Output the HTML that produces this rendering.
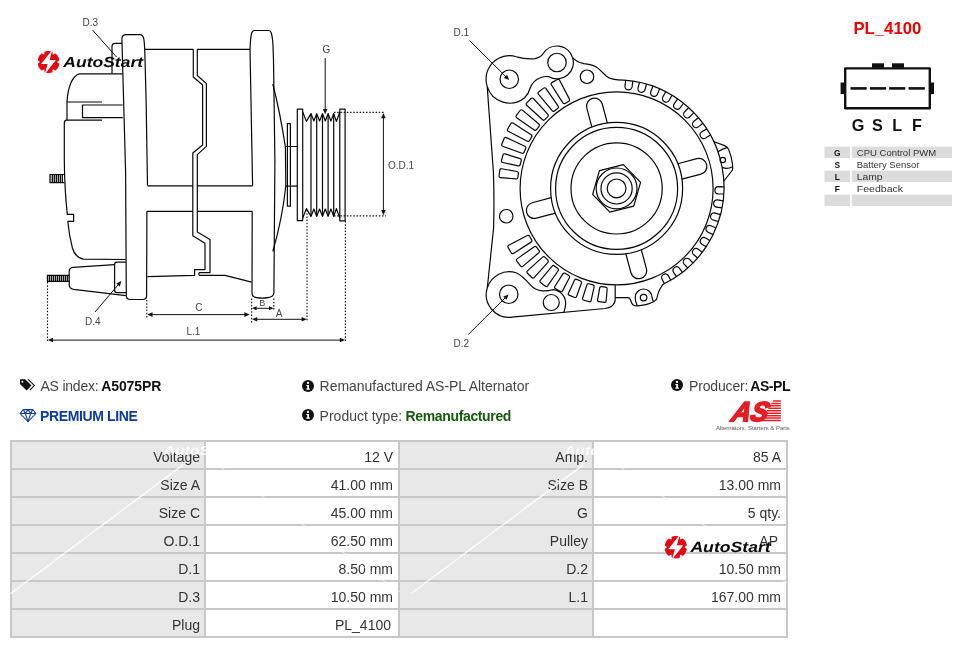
<!DOCTYPE html>
<html><head><meta charset="utf-8"><title>A5075PR</title>
<style>
*{margin:0;padding:0;box-sizing:border-box}
html,body{width:976px;height:648px;background:#fff;overflow:hidden}
body{position:relative;will-change:transform;font-family:"Liberation Sans", sans-serif;color:#333;font-size:14px}
#draw{position:absolute;left:0;top:0;width:976px;height:366px}
.info{position:absolute;white-space:nowrap;font-size:14px;line-height:16px;color:#454545}
.info b{color:#111}
.ico{position:absolute}
table#spec{position:absolute;left:10px;top:440px;width:778px;height:198px;border-collapse:collapse;table-layout:fixed;font-size:14px}
#spec td{border:2px solid #c8c8c8;height:28px;text-align:right;padding:3px 5px 0 0;vertical-align:middle;color:#333;background:#fff;width:25%;line-height:16px}
#spec td.l{background:#e8e8e8;padding-right:4px}
</style></head>
<body>
<svg id="draw" width="976" height="366" viewBox="0 0 976 366" fill="none" stroke="#080808" stroke-width="1.2" stroke-linejoin="round" stroke-linecap="butt">
<g id="side">
<path d="M147.5 185.8 L146.1 100 L144.8 52 Q144.5 44 144 40 Q143.4 34.7 139.8 34.7 H126.2 Q121.9 34.7 121.9 39.5 L125.6 172 L126.3 295.5 Q126.3 299.5 130.5 299.5 H142.5 Q146.6 299.5 146.6 295.5 L146.9 211.3" />
<path d="M122 43.3 H115 Q112 43.3 112 46.3 V73.5" />
<path d="M122.5 73.8 H79.5 C73 75 68 86 67 101.8 V120" />
<path d="M67 102 H102 M65.8 120.2 H102 M122.6 105 H82.5 V117.6 H122.8" />
<path d="M66.5 120.2 Q64.3 120.6 64.3 123 V160 Q64.6 190 67.3 214.4 H73.6 V221.3 H67.8 Q69.2 236 72.4 248 Q75 257.4 83.5 259.2 L125.6 259.5" />
<rect x="50" y="174.5" width="12" height="8.1" fill="#c4c4c4" stroke="none"/>
<path d="M64.4 174.5 H50 V182.6 H64.4" />
<path d="M52.40 174.50L52.40 182.60" stroke-width="1.1"/>
<path d="M54.40 174.50L54.40 182.60" stroke-width="1.1"/>
<path d="M56.40 174.50L56.40 182.60" stroke-width="1.1"/>
<path d="M58.40 174.50L58.40 182.60" stroke-width="1.1"/>
<path d="M60.40 174.50L60.40 182.60" stroke-width="1.1"/>
<path d="M62.40 174.50L62.40 182.60" stroke-width="1.1"/>
<rect x="47.4" y="275.3" width="22" height="6" fill="#c4c4c4" stroke="none"/>
<path d="M69.3 275.3 H47.4 V281.3 H69.3" />
<path d="M49.40 275.30L49.40 281.30" stroke-width="1.1"/>
<path d="M51.40 275.30L51.40 281.30" stroke-width="1.1"/>
<path d="M53.40 275.30L53.40 281.30" stroke-width="1.1"/>
<path d="M55.40 275.30L55.40 281.30" stroke-width="1.1"/>
<path d="M57.40 275.30L57.40 281.30" stroke-width="1.1"/>
<path d="M59.40 275.30L59.40 281.30" stroke-width="1.1"/>
<path d="M61.40 275.30L61.40 281.30" stroke-width="1.1"/>
<path d="M63.40 275.30L63.40 281.30" stroke-width="1.1"/>
<path d="M65.40 275.30L65.40 281.30" stroke-width="1.1"/>
<path d="M67.40 275.30L67.40 281.30" stroke-width="1.1"/>
<path d="M114.6 264.6 L73 267.4 Q69.2 267.8 69.2 271.4 V285 Q69.3 288.4 73.6 289.3 L125.8 295.6" />
<path d="M125.8 262.2 H117 Q114.6 262.2 114.6 264.6 V290 Q114.6 292.6 117 292.6 H126" />
<path d="M144.8 49.3 H193.3 M197.1 49.3 H250" />
<path d="M193.3 49.3 V77 L202.6 85 V145 L192.8 153 V235.8 L205 243.3 V269.6 H194.6 V275.3 L147.4 276.6" />
<path d="M197.3 49.3 V75.5 L206.4 83.6 V146.4 L197.3 154.6 V232 L210 239.5 V272.6 H199.4 Q198.2 274 199.4 275.3 H225 L251.6 282.2" />
<path d="M147.5 185.8 H193 M197.3 185.8 H252.6 M146.9 211.3 H193 M197.3 211.3 H252.2" />
<path d="M252.6 185.8 L250 49.3 L250.5 41 Q251 33.4 252.4 31.6 Q253.3 30.5 255 30.5 H268.4 Q270.3 30.5 271 32.2 Q272.6 36.6 273 46 L273.5 60 L274.9 160 L273.9 293 Q273.6 297 268 297.6 Q262 298.6 256.5 297.6 Q252 297 252 293 L252.2 211.3" />
<path d="M272.8 84 Q280 112 285.4 147 L285.8 186 Q282.5 218 272.8 251.5" />
<path d="M287.4 123.6 H290.4 V206.2 H287.4 Z" />
<path d="M285.3 146.5 H297 M285.7 186.2 H297" />
<path d="M297.3 220.6 V109.2 H302.7 L302.7 112 L306.4 121.4 L311 113.6 L313.9 121 L316.7 113.6 L319.6 121 L322.5 113.6 L325.3 121 L328.1 113.6 L330.9 121 L333.7 113.6 L336.4 121.4 L339.8 112 V109.2 H345.1 V220.8 H339.8 L339.8 218.0 L336.4 208.6 L333.7 216.4 L330.9 209.0 L328.1 216.4 L325.3 209.0 L322.5 216.4 L319.6 209.0 L316.7 216.4 L313.9 209.0 L311 216.4 L306.4 208.6 L302.7 218.0 V220.6 Z" />
<path d="M302.70 112.00L302.70 218.00" />
<path d="M339.80 112.00L339.80 218.00" />
<path d="M311.00 113.80L311.00 216.20" />
<path d="M316.70 113.80L316.70 216.20" />
<path d="M322.50 113.80L322.50 216.20" />
<path d="M328.10 113.80L328.10 216.20" />
<path d="M333.70 113.80L333.70 216.20" />
</g>
<g id="dims" stroke="#111" stroke-width="1">
<path d="M47.50 282.00L47.50 341.50" stroke-dasharray="1.5 1.7" stroke-width="1.15"/>
<path d="M146.80 300.00L146.80 318.00" stroke-dasharray="1.5 1.7" stroke-width="1.15"/>
<path d="M251.60 298.50L251.60 322.50" stroke-dasharray="1.5 1.7" stroke-width="1.15"/>
<path d="M273.80 298.50L273.80 311.00" stroke-dasharray="1.5 1.7" stroke-width="1.15"/>
<path d="M307.00 210.00L307.00 321.50" stroke-dasharray="1.5 1.7" stroke-width="1.15"/>
<path d="M345.40 221.00L345.40 342.00" stroke-dasharray="1.5 1.7" stroke-width="1.15"/>
<path d="M334.00 112.40L384.50 112.40" stroke-dasharray="1.5 1.7" stroke-width="1.15"/>
<path d="M334.00 215.80L386.00 215.80" stroke-dasharray="1.5 1.7" stroke-width="1.15"/>
<path d="M149.00 314.60L248.00 314.60" />
<path d="M147.30 314.60L152.50 312.30L152.50 316.90Z" fill="#111" stroke="none"/>
<path d="M249.60 314.60L244.40 316.90L244.40 312.30Z" fill="#111" stroke="none"/>
<path d="M254.00 308.30L272.00 308.30" />
<path d="M252.00 308.30L256.60 306.30L256.60 310.30Z" fill="#111" stroke="none"/>
<path d="M273.60 308.30L269.00 310.30L269.00 306.30Z" fill="#111" stroke="none"/>
<path d="M254.00 319.30L305.00 319.30" />
<path d="M252.00 319.30L257.20 317.00L257.20 321.60Z" fill="#111" stroke="none"/>
<path d="M306.80 319.30L301.60 321.60L301.60 317.00Z" fill="#111" stroke="none"/>
<path d="M50.00 340.10L343.00 340.10" />
<path d="M47.80 340.00L53.00 337.70L53.00 342.30Z" fill="#111" stroke="none"/>
<path d="M345.00 340.00L339.80 342.30L339.80 337.70Z" fill="#111" stroke="none"/>
<path d="M383.40 116.00L383.40 212.00" />
<path d="M383.40 113.00L385.70 118.20L381.10 118.20Z" fill="#111" stroke="none"/>
<path d="M383.40 215.30L381.10 210.10L385.70 210.10Z" fill="#111" stroke="none"/>
<path d="M325.20 58.00L325.20 110.00" />
<path d="M325.20 114.20L322.90 109.00L327.50 109.00Z" fill="#111" stroke="none"/>
<path d="M92.50 30.00L116.50 57.00" />
<path d="M95.00 312.00L120.00 282.60" />
<path d="M121.40 281.00L119.77 286.45L116.27 283.46Z" fill="#111" stroke="none"/>
</g>
<g id="lbl" fill="#444" stroke="none" font-family="&quot;Liberation Sans&quot;, sans-serif">
<text x="82.5" y="25.6" font-size="10" text-anchor="start" >D.3</text>
<text x="85" y="325" font-size="10" text-anchor="start" >D.4</text>
<text x="198.8" y="310.6" font-size="10" text-anchor="middle" >C</text>
<text x="262.2" y="306" font-size="9" text-anchor="middle" >B</text>
<text x="279" y="317.4" font-size="10" text-anchor="middle" >A</text>
<text x="193.4" y="334.8" font-size="10" text-anchor="middle" >L.1</text>
<text x="326.5" y="53.4" font-size="10" text-anchor="middle" >G</text>
<text x="388" y="169" font-size="10" text-anchor="start" >O.D.1</text>
</g>
<g id="front">
<circle cx="616.60" cy="188.40" r="9.40"/>
<circle cx="616.60" cy="188.40" r="15.60"/>
<circle cx="616.60" cy="188.40" r="20.40"/>
<circle cx="616.60" cy="188.40" r="45.60"/>
<circle cx="616.60" cy="188.40" r="61.00"/>
<circle cx="616.60" cy="188.40" r="66.00"/>
<circle cx="616.60" cy="188.40" r="96.50"/>
<path d="M623.41 164.66 L640.57 182.42 L633.76 206.17 L609.79 212.14 L592.63 194.38 L599.44 170.63Z"/>
<path d="M591.92 127.20 L586.82 108.17 A8.00 8.00 0 0 1 602.28 104.03 L607.37 123.06"/>
<path d="M677.80 163.72 L696.83 158.62 A8.00 8.00 0 0 1 700.97 174.08 L681.94 179.17"/>
<path d="M641.28 249.60 L646.38 268.63 A8.00 8.00 0 0 1 630.92 272.77 L625.83 253.74"/>
<path d="M555.40 213.08 L536.37 218.18 A8.00 8.00 0 0 1 532.23 202.72 L551.26 197.63"/>
<path d="M562.88 102.90 L551.31 84.76 Q550.45 83.41 552.24 82.37 L556.96 79.65 Q558.75 78.61 559.49 80.04 L569.42 99.13 Q570.15 100.55 568.77 101.35 L565.13 103.45 Q563.75 104.25 562.88 102.90Z"/>
<path d="M552.18 110.65 L538.34 94.17 Q537.31 92.94 538.95 91.68 L543.27 88.37 Q544.92 87.10 545.84 88.42 L558.17 106.05 Q559.09 107.37 557.82 108.34 L554.48 110.90 Q553.21 111.87 552.18 110.65Z"/>
<path d="M542.59 119.72 L526.71 105.19 Q525.53 104.11 526.99 102.64 L530.84 98.79 Q532.31 97.33 533.39 98.51 L547.92 114.39 Q549.00 115.57 547.87 116.70 L544.90 119.67 Q543.77 120.80 542.59 119.72Z"/>
<path d="M534.25 129.97 L516.62 117.64 Q515.30 116.72 516.57 115.07 L519.88 110.75 Q521.14 109.11 522.37 110.14 L538.85 123.98 Q540.07 125.01 539.10 126.28 L536.54 129.62 Q535.57 130.89 534.25 129.97Z"/>
<path d="M527.33 141.22 L508.24 131.29 Q506.81 130.55 507.85 128.76 L510.57 124.04 Q511.61 122.25 512.96 123.11 L531.10 134.68 Q532.45 135.55 531.65 136.93 L529.55 140.57 Q528.75 141.95 527.33 141.22Z"/>
<path d="M521.94 153.27 L502.65 146.27 Q501.14 145.72 501.93 143.82 L504.00 138.84 Q504.78 136.94 506.23 137.62 L524.82 146.30 Q526.27 146.98 525.66 148.46 L524.06 152.34 Q523.44 153.82 521.94 153.27Z"/>
<path d="M518.16 165.93 L502.62 162.49 Q501.06 162.15 501.57 160.25 L502.90 155.26 Q503.41 153.36 504.94 153.85 L520.11 158.64 Q521.64 159.13 521.23 160.67 L520.14 164.73 Q519.73 166.27 518.16 165.93Z"/>
<path d="M516.07 178.97 L500.41 177.61 Q498.82 177.47 499.07 175.53 L499.75 170.42 Q500.00 168.47 501.58 168.75 L517.06 171.49 Q518.63 171.77 518.42 173.36 L517.88 177.52 Q517.67 179.11 516.07 178.97Z"/>
<path d="M531.10 242.12 L513.38 253.42 Q512.03 254.28 511.00 252.50 L508.29 247.80 Q507.26 246.02 508.68 245.28 L527.33 235.58 Q528.75 234.85 529.55 236.23 L531.65 239.87 Q532.45 241.25 531.10 242.12Z"/>
<path d="M538.85 252.82 L522.75 266.34 Q521.53 267.37 520.27 265.73 L516.97 261.43 Q515.71 259.79 517.03 258.88 L534.25 246.83 Q535.57 245.91 536.54 247.18 L539.10 250.52 Q540.07 251.79 538.85 252.82Z"/>
<path d="M547.92 262.41 L534.07 277.55 Q532.99 278.73 531.53 277.28 L527.72 273.47 Q526.27 272.01 527.45 270.93 L542.59 257.08 Q543.77 256.00 544.90 257.13 L547.87 260.10 Q549.00 261.23 547.92 262.41Z"/>
<path d="M558.17 270.75 L547.56 285.92 Q546.64 287.23 545.04 286.01 L540.84 282.78 Q539.24 281.56 540.27 280.33 L552.18 266.15 Q553.21 264.93 554.48 265.90 L557.82 268.46 Q559.09 269.43 558.17 270.75Z"/>
<path d="M569.42 277.67 L562.54 290.90 Q561.80 292.32 560.11 291.35 L555.69 288.79 Q554.00 287.82 554.86 286.47 L562.88 273.90 Q563.75 272.55 565.13 273.35 L568.77 275.45 Q570.15 276.25 569.42 277.67Z"/>
<path d="M581.47 283.06 L576.59 296.52 Q576.04 298.02 574.25 297.28 L569.55 295.34 Q567.77 294.60 568.44 293.14 L574.50 280.18 Q575.18 278.73 576.66 279.34 L580.54 280.94 Q582.02 281.56 581.47 283.06Z"/>
<path d="M594.13 286.84 L591.10 300.52 Q590.76 302.09 588.89 301.59 L584.00 300.27 Q582.14 299.78 582.62 298.25 L586.84 284.89 Q587.33 283.36 588.87 283.77 L592.93 284.86 Q594.47 285.27 594.13 286.84Z"/>
<path d="M607.17 288.93 L606.12 301.00 Q605.98 302.59 604.11 302.34 L599.18 301.70 Q597.30 301.45 597.58 299.87 L599.69 287.94 Q599.97 286.37 601.56 286.58 L605.72 287.12 Q607.31 287.33 607.17 288.93Z"/>
<path d="M625.65 80.23 L624.98 85.89 A3.60 3.60 0 0 0 632.13 86.74 L632.80 81.08"/>
<path d="M639.47 82.32 L638.07 87.85 A3.60 3.60 0 0 0 645.05 89.62 L646.45 84.09"/>
<path d="M652.90 86.19 L650.80 91.48 A3.60 3.60 0 0 0 657.49 94.15 L659.59 88.85"/>
<path d="M665.72 91.76 L662.94 96.74 A3.60 3.60 0 0 0 669.23 100.25 L672.01 95.27"/>
<path d="M677.70 98.95 L674.31 103.53 A3.60 3.60 0 0 0 680.09 107.82 L683.48 103.24"/>
<path d="M688.66 107.63 L684.69 111.73 A3.60 3.60 0 0 0 689.87 116.74 L693.83 112.64"/>
<path d="M698.39 117.66 L693.93 121.21 A3.60 3.60 0 0 0 698.41 126.85 L702.87 123.30"/>
<path d="M706.74 128.87 L701.86 131.81 A3.60 3.60 0 0 0 705.57 137.98 L710.45 135.04"/>
<path d="M724.06 186.80 L718.46 186.65 A3.60 3.60 0 0 0 718.26 193.84 L723.86 194.00"/>
<path d="M723.22 200.85 L717.69 199.96 A3.60 3.60 0 0 0 716.55 207.07 L722.08 207.96"/>
<path d="M720.55 214.66 L715.18 213.06 A3.60 3.60 0 0 0 713.12 219.96 L718.49 221.56"/>
<path d="M716.10 228.01 L710.99 225.72 A3.60 3.60 0 0 0 708.05 232.30 L713.16 234.58"/>
<path d="M709.95 240.66 L705.69 238.04 A3.60 3.60 0 0 0 701.92 244.17 L706.17 246.79"/>
<path d="M702.20 252.40 L698.32 249.25 A3.60 3.60 0 0 0 693.77 254.84 L697.65 257.99"/>
<path d="M692.98 263.03 L689.54 259.40 A3.60 3.60 0 0 0 684.31 264.35 L687.75 267.98"/>
<path d="M682.45 272.37 L679.52 268.32 A3.60 3.60 0 0 0 673.69 272.54 L676.62 276.59"/>
<path d="M670.80 280.25 L668.42 275.85 A3.60 3.60 0 0 0 662.08 279.28 L664.46 283.67"/>
<circle cx="509.25" cy="79.25" r="9.25"/>
<circle cx="557.00" cy="62.50" r="9.25"/>
<circle cx="587.00" cy="76.75" r="6.75"/>
<circle cx="506.25" cy="216.25" r="6.75"/>
<circle cx="508.75" cy="294.25" r="9.25"/>
<circle cx="551.25" cy="302.50" r="8.00"/>
<circle cx="643.60" cy="297.60" r="3.30"/>
<circle cx="722.80" cy="160.00" r="2.70"/>
<path d="M624.00 80.16 A107.5 107.5 0 0 1 662.78 284.43"/>
<path d="M713.5 141.5 L724.6 145.6 Q727.6 146.8 728.7 149.6 Q731.6 157 732.4 163.5 Q732.9 167 732.5 170 L723.5 181.5"/>
<path d="M718 151.7 Q722 149.2 726.8 147.6 M722.4 167.4 Q727 169.8 732.5 166.8"/>
<path d="M662.78 284.43 L659.6 289.8 Q657.6 294 657.2 297 Q657 299.8 654.8 300.8 L653.4 301.8 Q650 303.6 645.9 304.6 Q641 305.7 637.3 305.8 L634.6 305.7 Q632.4 305.2 631.6 302.8 L630.3 299.6 Q629.6 297.7 627.6 297.7 H615.2"/>
<path d="M637.2 305.6 Q635 301.4 635.2 297.4 A8.4 8.4 0 0 1 652 297.4 Q652.5 299.8 653.5 301.8"/>
<path d="M615.2 285.2 L615.2 298 Q615.5 303.4 611.6 306.3 Q609.5 307.9 605 308.5 L512 317.2"/>
<path d="M512 317.2 A22.8 22.8 0 0 1 487.3 287.8"/>
<path d="M487.3 287.8 L493.6 228 Q494.4 200 493.4 172 L487.2 86.4"/>
<path d="M487.2 86.4 A23.4 23.4 0 0 1 516.5 56.8"/>
<path d="M516.5 56.8 Q527 59.8 535 58.6 Q540.5 57.5 543.2 53.6"/>
<path d="M543.2 53.6 A16.3 16.3 0 0 1 572.6 57.6"/>
<path d="M572.6 57.6 Q577 62.4 584 63.6 Q594 64.6 598.5 68.6 Q602.5 72.4 606.5 76.2 Q611 80.2 624.00 80.16"/>
<path d="M487.2 86.4 A23.4 23.4 0 0 0 524.6 97.7 Q528.6 94 530 88.5 Q532.6 80.5 541 77.5 Q545 76 549 76.7 A16.3 16.3 0 0 0 572.6 57.6"/>
<path d="M487.3 287.8 A22.8 22.8 0 0 1 516.6 273 C522 275.4 526.5 280.6 530 284.6 Q535 290.2 542.4 290.8 Q548 291.2 552.5 289.7 A13.8 13.8 0 0 1 565.7 303.5 Q565.4 308 563.8 312.3"/>
</g>
<g stroke="#111" stroke-width="1">
<path d="M469.5 40.5 L507 77.8"/>
<path d="M509.20 80.00L503.89 77.97L507.13 74.70Z" fill="#111" stroke="none"/>
<path d="M468.3 334.5 L506.5 296.5"/>
<path d="M508.60 294.40L506.51 299.69L503.28 296.41Z" fill="#111" stroke="none"/>
</g>
<g fill="#444" stroke="none" font-family="&quot;Liberation Sans&quot;, sans-serif" font-size="10">
<text x="453.6" y="35.6">D.1</text>
<text x="453.6" y="346.6">D.2</text>
</g>
<g id="right" stroke="none">
<text id="pl" x="887.4" y="34" text-anchor="middle" font-size="16.5" font-weight="bold" fill="#f00000" font-family="&quot;Liberation Sans&quot;, sans-serif" textLength="68" lengthAdjust="spacingAndGlyphs">PL_4100</text>
<rect x="845.2" y="68.4" width="84.6" height="39.8" fill="#fff" stroke="#111" stroke-width="2.4"/>
<rect x="872" y="63.3" width="12" height="4.5" fill="#111"/>
<rect x="892" y="63.3" width="12" height="4.5" fill="#111"/>
<rect x="840.6" y="82.5" width="3.8" height="11.6" fill="#111"/>
<rect x="930.6" y="82.5" width="3.4" height="11.6" fill="#111"/>
<rect x="850.5" y="87.1" width="16.2" height="2.6" fill="#111"/>
<rect x="869.9" y="87.1" width="16.2" height="2.6" fill="#111"/>
<rect x="889.1" y="87.1" width="16.2" height="2.6" fill="#111"/>
<rect x="908.6" y="87.1" width="16.2" height="2.6" fill="#111"/>
<text x="858" y="130.9" text-anchor="middle" font-size="16.2" font-weight="bold" fill="#111" font-family="&quot;Liberation Sans&quot;, sans-serif">G</text>
<text x="877.5" y="130.9" text-anchor="middle" font-size="16.2" font-weight="bold" fill="#111" font-family="&quot;Liberation Sans&quot;, sans-serif">S</text>
<text x="897.2" y="130.9" text-anchor="middle" font-size="16.2" font-weight="bold" fill="#111" font-family="&quot;Liberation Sans&quot;, sans-serif">L</text>
<text x="916.9" y="130.9" text-anchor="middle" font-size="16.2" font-weight="bold" fill="#111" font-family="&quot;Liberation Sans&quot;, sans-serif">F</text>
<rect x="824.5" y="146.6" width="25.6" height="11.4" fill="#dcdcdc"/>
<rect x="851.8" y="146.6" width="100.2" height="11.4" fill="#dcdcdc"/>
<text x="837.2" y="155.6" text-anchor="middle" font-size="8.4" font-weight="bold" fill="#111" font-family="&quot;Liberation Sans&quot;, sans-serif">G</text>
<text x="856.8" y="155.6" font-size="8.6" fill="#333" font-family="&quot;Liberation Sans&quot;, sans-serif" textLength="79.4" lengthAdjust="spacingAndGlyphs">CPU Control PWM</text>
<text x="837.2" y="167.6" text-anchor="middle" font-size="8.4" font-weight="bold" fill="#111" font-family="&quot;Liberation Sans&quot;, sans-serif">S</text>
<text x="856.8" y="167.6" font-size="8.6" fill="#333" font-family="&quot;Liberation Sans&quot;, sans-serif" textLength="62.5" lengthAdjust="spacingAndGlyphs">Battery Sensor</text>
<rect x="824.5" y="170.6" width="25.6" height="11.4" fill="#dcdcdc"/>
<rect x="851.8" y="170.6" width="100.2" height="11.4" fill="#dcdcdc"/>
<text x="837.2" y="179.6" text-anchor="middle" font-size="8.4" font-weight="bold" fill="#111" font-family="&quot;Liberation Sans&quot;, sans-serif">L</text>
<text x="856.8" y="179.6" font-size="8.6" fill="#333" font-family="&quot;Liberation Sans&quot;, sans-serif" textLength="25.8" lengthAdjust="spacingAndGlyphs">Lamp</text>
<text x="837.2" y="191.6" text-anchor="middle" font-size="8.4" font-weight="bold" fill="#111" font-family="&quot;Liberation Sans&quot;, sans-serif">F</text>
<text x="856.8" y="191.6" font-size="8.6" fill="#333" font-family="&quot;Liberation Sans&quot;, sans-serif" textLength="46.3" lengthAdjust="spacingAndGlyphs">Feedback</text>
<rect x="824.5" y="194.6" width="25.6" height="11.4" fill="#dcdcdc"/>
<rect x="851.8" y="194.6" width="100.2" height="11.4" fill="#dcdcdc"/>
</g>
</svg>
<svg class="ico" style="left:19px;top:378px" width="17" height="14" viewBox="0 0 17 14"><path d="M1 1.3h5.2l6.3 6.2-4.9 5-6.6-6.4z" fill="#111"/><path d="M8.3 1.3h1.5l6.3 6.2-4.9 5-0.8-0.8 4.2-4.2z" fill="#111"/><circle cx="3.4" cy="3.7" r="1" fill="#fff"/></svg><div class="info" id="t_as" style="left:40.5px;top:378px"><span style="letter-spacing:-0.22px">AS index:</span></div><div class="info" style="left:101.2px;top:378px"><b style="letter-spacing:-0.1px">A5075PR</b></div>
<svg class="ico" style="left:19px;top:408px" width="18" height="15" viewBox="0 0 18 15"><g fill="none" stroke="#0d3b9e" stroke-width="1.05" stroke-linejoin="round"><path d="M4.3 1.6h9.4l3.2 3.9L9 13.6 1.1 5.5z"/><path d="M1.1 5.5h15.8M6.3 5.5L9 13.4l2.7-7.9M4.3 1.6l2 3.9L9 1.6l2.7 3.9 2-3.9"/></g></svg><div class="info" id="t_pl" style="left:40px;top:407.6px;color:#0d3b9e;font-weight:bold;letter-spacing:-0.37px">PREMIUM LINE</div>
<svg class="ico" style="left:301px;top:378.5px" width="14" height="14" viewBox="0 0 14 14"><circle cx="7" cy="7" r="6" fill="#111"/><circle cx="7" cy="3.9" r="1.15" fill="#fff"/><path d="M5.4 5.9h2.6v3.7h0.9v1.2H5.3V9.6h0.9V7.1H5.4z" fill="#fff"/></svg><div class="info" id="t_rm" style="left:319.6px;top:378px;letter-spacing:-0.03px">Remanufactured AS-PL Alternator</div>
<svg class="ico" style="left:301px;top:407.8px" width="14" height="14" viewBox="0 0 14 14"><circle cx="7" cy="7" r="6" fill="#111"/><circle cx="7" cy="3.9" r="1.15" fill="#fff"/><path d="M5.4 5.9h2.6v3.7h0.9v1.2H5.3V9.6h0.9V7.1H5.4z" fill="#fff"/></svg><div class="info" id="t_pt" style="left:319.6px;top:407.6px">Product type:</div><div class="info" style="left:405.6px;top:407.6px"><b style="color:#155a0c;letter-spacing:-0.36px">Remanufactured</b></div>
<svg class="ico" style="left:670.3px;top:378.3px" width="14" height="14" viewBox="0 0 14 14"><circle cx="7" cy="7" r="6" fill="#111"/><circle cx="7" cy="3.9" r="1.15" fill="#fff"/><path d="M5.4 5.9h2.6v3.7h0.9v1.2H5.3V9.6h0.9V7.1H5.4z" fill="#fff"/></svg><div class="info" id="t_pr" style="left:689px;top:378px"><span style="letter-spacing:-0.15px">Producer:</span></div><div class="info" style="left:750.2px;top:378px"><b style="letter-spacing:-0.4px">AS-PL</b></div>

<table id="spec">
<tr><td class="l">Voltage</td><td>12 V</td><td class="l">Amp.</td><td>85 A</td></tr>
<tr><td class="l">Size A</td><td>41.00 mm</td><td class="l">Size B</td><td>13.00 mm</td></tr>
<tr><td class="l">Size C</td><td>45.00 mm</td><td class="l">G</td><td>5 qty.</td></tr>
<tr><td class="l">O.D.1</td><td>62.50 mm</td><td class="l">Pulley</td><td style="padding-right:8px">AP</td></tr>
<tr><td class="l">D.1</td><td>8.50 mm</td><td class="l">D.2</td><td>10.50 mm</td></tr>
<tr><td class="l">D.3</td><td>10.50 mm</td><td class="l">L.1</td><td>167.00 mm</td></tr>
<tr><td class="l">Plug</td><td style="padding-right:7px">PL_4100</td><td class="l"></td><td></td></tr>
</table>

<svg class="ico" id="wm" style="left:0;top:436px" width="976" height="212" viewBox="0 436 976 212" fill="none" stroke="#fff"><path d="M10.2 594L183.0 464.8" stroke-width="1.5" stroke-opacity="0.85"/><path d="M212.0 461.4L400.0 592" stroke-width="0.9" stroke-opacity="0.75"/><text x="163.6" y="455" font-size="13.6" font-weight="bold" font-style="italic" fill="#fff" fill-opacity="0.9" stroke="none" font-family="&quot;Liberation Sans&quot;, sans-serif" textLength="72" lengthAdjust="spacingAndGlyphs">AutoStart</text><path d="M410.5 594L583.3 464.8" stroke-width="1.5" stroke-opacity="0.85"/><path d="M612.3 461.4L800.3 592" stroke-width="0.9" stroke-opacity="0.75"/><text x="563.9" y="455" font-size="13.6" font-weight="bold" font-style="italic" fill="#fff" fill-opacity="0.9" stroke="none" font-family="&quot;Liberation Sans&quot;, sans-serif" textLength="72" lengthAdjust="spacingAndGlyphs">AutoStart</text></svg>
<svg class="ico" style="left:38px;top:49.9px" width="108" height="26" viewBox="0 0 108 26"><g transform="translate(10.5 12)"><path d="M8.80 0.00L8.84 0.31L9.28 0.65L9.96 1.05L10.57 1.48L10.83 1.91L10.76 2.29L10.67 2.66L10.57 3.03L10.46 3.40L10.34 3.76L10.20 4.12L10.05 4.47L9.89 4.82L9.71 5.16L9.53 5.50L9.33 5.83L9.12 6.15L8.90 6.47L8.67 6.77L8.43 7.07L8.17 7.36L7.91 7.64L7.64 7.91L7.36 8.17L7.07 8.42L6.57 8.41L5.88 8.10L5.20 7.72L4.69 7.50L4.40 7.62L4.15 7.81L4.08 8.36L4.07 9.14L4.00 9.89L3.76 10.33L3.40 10.46L3.03 10.57L2.66 10.67L2.29 10.76L1.91 10.83L1.53 10.89L1.15 10.94L0.77 10.97L0.38 10.99L0.00 11.00L-0.38 10.99L-0.77 10.97L-1.15 10.94L-1.53 10.89L-1.91 10.83L-2.29 10.76L-2.66 10.67L-3.03 10.57L-3.40 10.46L-3.76 10.33L-4.00 9.89L-4.07 9.14L-4.08 8.36L-4.15 7.81L-4.40 7.62L-4.69 7.50L-5.20 7.72L-5.88 8.10L-6.57 8.41L-7.07 8.42L-7.36 8.17L-7.64 7.91L-7.91 7.64L-8.17 7.36L-8.43 7.07L-8.67 6.77L-8.90 6.47L-9.12 6.15L-9.33 5.83L-9.53 5.50L-9.71 5.16L-9.89 4.82L-10.05 4.47L-10.20 4.12L-10.34 3.76L-10.46 3.40L-10.57 3.03L-10.67 2.66L-10.76 2.29L-10.83 1.91L-10.57 1.48L-9.96 1.05L-9.28 0.65L-8.84 0.31L-8.80 0.00L-8.84 -0.31L-9.28 -0.65L-9.96 -1.05L-10.57 -1.48L-10.83 -1.91L-10.76 -2.29L-10.67 -2.66L-10.57 -3.03L-10.46 -3.40L-10.34 -3.76L-10.20 -4.12L-10.05 -4.47L-9.89 -4.82L-9.71 -5.16L-9.53 -5.50L-9.33 -5.83L-9.12 -6.15L-8.90 -6.47L-8.67 -6.77L-8.43 -7.07L-8.17 -7.36L-7.91 -7.64L-7.64 -7.91L-7.36 -8.17L-7.07 -8.42L-6.57 -8.41L-5.88 -8.10L-5.20 -7.72L-4.69 -7.50L-4.40 -7.62L-4.15 -7.81L-4.08 -8.36L-4.07 -9.14L-4.00 -9.89L-3.76 -10.33L-3.40 -10.46L-3.03 -10.57L-2.66 -10.67L-2.29 -10.76L-1.91 -10.83L-1.53 -10.89L-1.15 -10.94L-0.77 -10.97L-0.38 -10.99L-0.00 -11.00L0.38 -10.99L0.77 -10.97L1.15 -10.94L1.53 -10.89L1.91 -10.83L2.29 -10.76L2.66 -10.67L3.03 -10.57L3.40 -10.46L3.76 -10.33L4.00 -9.89L4.07 -9.14L4.08 -8.36L4.15 -7.81L4.40 -7.62L4.69 -7.50L5.20 -7.72L5.88 -8.10L6.57 -8.41L7.07 -8.42L7.36 -8.17L7.64 -7.91L7.91 -7.64L8.17 -7.36L8.43 -7.07L8.67 -6.77L8.90 -6.47L9.12 -6.15L9.33 -5.83L9.53 -5.50L9.71 -5.16L9.89 -4.82L10.05 -4.47L10.20 -4.12L10.34 -3.76L10.46 -3.40L10.57 -3.03L10.67 -2.66L10.76 -2.29L10.83 -1.91L10.57 -1.48L9.96 -1.05L9.28 -0.65L8.84 -0.31L8.80 -0.00Z" fill="#e30613"/><path d="M3.9 -12.4L-7.4 2.1L-0.9 2.1L-3.9 12.4L7.4 -2L1.1 -2Z" fill="#fff" transform="scale(1.000)"/></g><text text-rendering="geometricPrecision" x="25.3" y="16.7" font-size="14.6" font-weight="bold" font-style="italic" fill="#0a0a0a" font-family="&quot;Liberation Sans&quot;, sans-serif" textLength="79.8" lengthAdjust="spacingAndGlyphs">AutoStart</text></svg>
<svg class="ico" style="left:664.6px;top:534.6px" width="108" height="26" viewBox="0 0 108 26"><g transform="translate(10.8 12.2)"><path d="M8.96 0.00L9.00 0.31L9.45 0.66L10.14 1.07L10.76 1.51L11.03 1.94L10.96 2.33L10.87 2.71L10.77 3.09L10.65 3.46L10.52 3.83L10.38 4.20L10.23 4.56L10.07 4.91L9.89 5.26L9.70 5.60L9.50 5.94L9.29 6.26L9.06 6.58L8.83 6.90L8.58 7.20L8.32 7.49L8.06 7.78L7.78 8.06L7.49 8.32L7.20 8.58L6.69 8.56L5.99 8.25L5.30 7.86L4.77 7.64L4.48 7.76L4.23 7.96L4.15 8.52L4.15 9.31L4.07 10.07L3.83 10.52L3.46 10.65L3.09 10.77L2.71 10.87L2.33 10.96L1.94 11.03L1.56 11.09L1.17 11.14L0.78 11.17L0.39 11.19L0.00 11.20L-0.39 11.19L-0.78 11.17L-1.17 11.14L-1.56 11.09L-1.94 11.03L-2.33 10.96L-2.71 10.87L-3.09 10.77L-3.46 10.65L-3.83 10.52L-4.07 10.07L-4.15 9.31L-4.15 8.52L-4.23 7.96L-4.48 7.76L-4.77 7.64L-5.30 7.86L-5.99 8.25L-6.69 8.56L-7.20 8.58L-7.49 8.32L-7.78 8.06L-8.06 7.78L-8.32 7.49L-8.58 7.20L-8.83 6.90L-9.06 6.58L-9.29 6.26L-9.50 5.94L-9.70 5.60L-9.89 5.26L-10.07 4.91L-10.23 4.56L-10.38 4.20L-10.52 3.83L-10.65 3.46L-10.77 3.09L-10.87 2.71L-10.96 2.33L-11.03 1.94L-10.76 1.51L-10.14 1.07L-9.45 0.66L-9.00 0.31L-8.96 0.00L-9.00 -0.31L-9.45 -0.66L-10.14 -1.07L-10.76 -1.51L-11.03 -1.94L-10.96 -2.33L-10.87 -2.71L-10.77 -3.09L-10.65 -3.46L-10.52 -3.83L-10.38 -4.20L-10.23 -4.56L-10.07 -4.91L-9.89 -5.26L-9.70 -5.60L-9.50 -5.94L-9.29 -6.26L-9.06 -6.58L-8.83 -6.90L-8.58 -7.20L-8.32 -7.49L-8.06 -7.78L-7.78 -8.06L-7.49 -8.32L-7.20 -8.58L-6.69 -8.56L-5.99 -8.25L-5.30 -7.86L-4.77 -7.64L-4.48 -7.76L-4.23 -7.96L-4.15 -8.52L-4.15 -9.31L-4.07 -10.07L-3.83 -10.52L-3.46 -10.65L-3.09 -10.77L-2.71 -10.87L-2.33 -10.96L-1.94 -11.03L-1.56 -11.09L-1.17 -11.14L-0.78 -11.17L-0.39 -11.19L-0.00 -11.20L0.39 -11.19L0.78 -11.17L1.17 -11.14L1.56 -11.09L1.94 -11.03L2.33 -10.96L2.71 -10.87L3.09 -10.77L3.46 -10.65L3.83 -10.52L4.07 -10.07L4.15 -9.31L4.15 -8.52L4.23 -7.96L4.48 -7.76L4.77 -7.64L5.30 -7.86L5.99 -8.25L6.69 -8.56L7.20 -8.58L7.49 -8.32L7.78 -8.06L8.06 -7.78L8.32 -7.49L8.58 -7.20L8.83 -6.90L9.06 -6.58L9.29 -6.26L9.50 -5.94L9.70 -5.60L9.89 -5.26L10.07 -4.91L10.23 -4.56L10.38 -4.20L10.52 -3.83L10.65 -3.46L10.77 -3.09L10.87 -2.71L10.96 -2.33L11.03 -1.94L10.76 -1.51L10.14 -1.07L9.45 -0.66L9.00 -0.31L8.96 -0.00Z" fill="#e30613"/><path d="M3.9 -12.4L-7.4 2.1L-0.9 2.1L-3.9 12.4L7.4 -2L1.1 -2Z" fill="#fff" transform="scale(1.018)"/></g><text text-rendering="geometricPrecision" x="25.4" y="17.4" font-size="14.8" font-weight="bold" font-style="italic" fill="#0a0a0a" font-family="&quot;Liberation Sans&quot;, sans-serif" textLength="80.3" lengthAdjust="spacingAndGlyphs">AutoStart</text></svg>
<svg class="ico" style="left:714px;top:396px" width="80" height="38" viewBox="714 396 80 38"><g transform="translate(730.6 421) skewX(-14)"><text x="0" y="0" font-size="27.4" font-weight="bold" font-style="italic" fill="#e31e24" stroke="#e31e24" stroke-width="1.9" stroke-linejoin="miter" font-family="&quot;Liberation Sans&quot;, sans-serif" textLength="36" lengthAdjust="spacingAndGlyphs">AS</text></g><path d="M773.2 400.20H780.8V401.70H772.4Z" fill="#e31e24"/><path d="M771.7 402.65H780.8V404.15H770.9Z" fill="#e31e24"/><path d="M770.3 405.10H780.8V406.60H769.5Z" fill="#e31e24"/><path d="M768.8 407.55H780.8V409.05H768.0Z" fill="#e31e24"/><path d="M767.3 410.00H780.8V411.50H766.5Z" fill="#e31e24"/><path d="M765.9 412.45H780.8V413.95H765.1Z" fill="#e31e24"/><path d="M764.4 414.90H780.8V416.40H763.6Z" fill="#e31e24"/><path d="M762.9 417.35H780.8V418.85H762.1Z" fill="#e31e24"/><path d="M761.4 419.80H780.8V421.30H760.6Z" fill="#e31e24"/><text x="716" y="429.5" font-size="5.7" fill="#555" font-family="&quot;Liberation Sans&quot;, sans-serif" textLength="73.8" lengthAdjust="spacingAndGlyphs">Alternators, Starters &amp; Parts</text></svg>

</body></html>
